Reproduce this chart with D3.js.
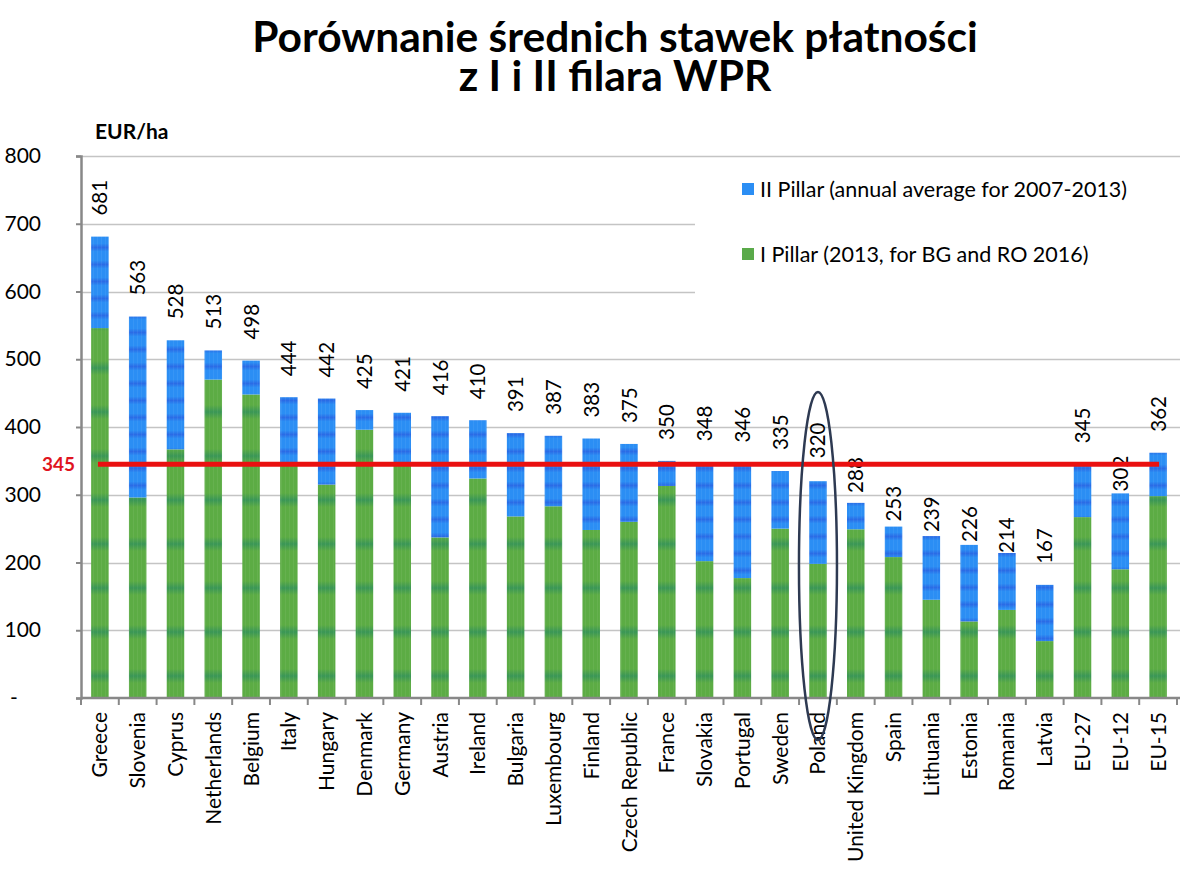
<!DOCTYPE html>
<html><head><meta charset="utf-8">
<script src="https://cdn.jsdelivr.net/npm/d3@7/dist/d3.min.js"></script>
<style>body{margin:0;background:#fff}svg{display:block}</style>
</head><body><svg id="c" width="1186" height="879"></svg>
<script>
const categories = ["Greece","Slovenia","Cyprus","Netherlands","Belgium","Italy","Hungary","Denmark","Germany","Austria","Ireland","Bulgaria","Luxembourg","Finland","Czech Republic","France","Slovakia","Portugal","Sweden","Poland","United Kingdom","Spain","Lithuania","Estonia","Romania","Latvia","EU-27","EU-12","EU-15"];
const totals = [681,563,528,513,498,444,442,425,421,416,410,391,387,383,375,350,348,346,335,320,288,253,239,226,214,167,345,302,362];
const pillar1 = [546,296,367,470,448,345,315,396,343,237,324,268,283,248,260,313,202,177,250,198,249,208,145,113,130,84,267,190,298];
const yTicks = [0,100,200,300,400,500,600,700,800];
const yTickLabels = ["-","100","200","300","400","500","600","700","800"];
const average = 345;
const seriesNames = ["II Pillar (annual average for 2007-2013)","I Pillar (2013, for BG and RO 2016)"];
const titleLines = ["Porównanie średnich stawek płatności","z I i II filara WPR"];
const highlight = "Poland";
// label lift above bar (layout), default 21
const labelLiftOverride = {"United Kingdom":10,"Spain":5,"Lithuania":4,"Estonia":3,"Romania":0,"EU-12":2,"Poland":23};

const pillar2 = totals.map((t,i)=>t-pillar1[i]);
const svg = d3.select("#c");
const FONT = "Lato, 'Open Sans', sans-serif";

const x = d3.scaleBand().domain(categories).range([81,1177]).paddingInner(0.537).paddingOuter(0.2685);
const y = d3.scaleLinear().domain([0,800]).range([698,156]);

// patterns
const defs = svg.append("defs");
function stripePattern(id, base, dark, period, band){
  const g = defs.append("linearGradient").attr("id",id+"g").attr("x1",0).attr("y1",0).attr("x2",0).attr("y2",1);
  const s=band/period;
  g.append("stop").attr("offset",0).attr("stop-color",base);
  g.append("stop").attr("offset",0.5-s/2).attr("stop-color",base);
  g.append("stop").attr("offset",0.5).attr("stop-color",dark);
  g.append("stop").attr("offset",0.5+s/2).attr("stop-color",base);
  g.append("stop").attr("offset",1).attr("stop-color",base);
  const p = defs.append("pattern").attr("id",id).attr("patternUnits","userSpaceOnUse").attr("width",4).attr("height",period).attr("y",y(0));
  p.append("rect").attr("width",4).attr("height",period).attr("fill",`url(#${id}g)`);
  p.append("rect").attr("x",1).attr("width",1).attr("height",period).attr("fill","#ffffff").attr("opacity",0.06);
}
stripePattern("pg","#5cac44","#3a9656",44,14);
stripePattern("pb","#2b8ef4","#2a6ce6",17,8);

// title (one text element, two lines)
const title = svg.append("text").attr("text-anchor","middle")
  .attr("font-family",FONT).attr("font-weight",700).attr("font-size",42.5).attr("fill","#000");
title.selectAll("tspan").data(titleLines).enter().append("tspan")
  .attr("x",615).attr("y",(d,i)=>52+i*39).text(d=>d);

// gridlines
svg.append("g").selectAll("line").data(yTicks.filter(d=>d>0)).enter().append("line")
  .attr("x1",82).attr("x2",1180).attr("y1",d=>Math.round(y(d))+0.5).attr("y2",d=>Math.round(y(d))+0.5)
  .attr("stroke","#c4c4c4").attr("stroke-width",1.5);

// legend background
svg.append("rect").attr("x",695).attr("y",166).attr("width",491).attr("height",130).attr("fill","#fff");

// y axis
const yAxis = d3.axisLeft(y).tickValues(yTicks).tickSize(5).tickFormat("");
const ya = svg.append("g").attr("transform","translate(81,0)").call(yAxis);
ya.select(".domain").attr("stroke","#888").attr("stroke-width",2.5);
ya.selectAll(".tick line").attr("stroke","#888").attr("stroke-width",2);
svg.append("g").selectAll("text").data(yTicks).enter().append("text")
  .attr("x",(d,i)=>d===0?10:41).attr("text-anchor",d=>d===0?"start":"end")
  .attr("y",d=>y(d)+7).attr("font-family",FONT).attr("font-size",21).attr("fill","#000")
  .text((d,i)=>yTickLabels[i]);
svg.append("text").attr("x",95).attr("y",139).attr("font-family",FONT).attr("font-weight",700).attr("font-size",21).text("EUR/ha");

// bars
const bw = x.bandwidth();
const gb = svg.append("g");
gb.selectAll("rect.p1").data(categories).enter().append("rect")
  .attr("x",d=>x(d)).attr("width",bw)
  .attr("y",(d,i)=>y(pillar1[i])).attr("height",(d,i)=>y(0)-y(pillar1[i]))
  .attr("fill","url(#pg)");
gb.selectAll("rect.p2").data(categories).enter().append("rect")
  .attr("x",d=>x(d)).attr("width",bw)
  .attr("y",(d,i)=>y(totals[i])).attr("height",(d,i)=>y(pillar1[i])-y(totals[i]))
  .attr("fill","url(#pb)");

// x axis
const xa = svg.append("g").attr("transform","translate(0,698)");
xa.append("line").attr("x1",81).attr("x2",1180).attr("stroke","#888").attr("stroke-width",2.5);
const step = x.step();
xa.selectAll("line.t").data(d3.range(categories.length+1)).enter().append("line")
  .attr("x1",i=>81+i*step).attr("x2",i=>81+i*step).attr("y1",0).attr("y2",7)
  .attr("stroke","#888").attr("stroke-width",2);
svg.append("g").selectAll("text").data(categories).enter().append("text")
  .attr("transform",d=>`translate(${x(d)+bw/2+7.5},712) rotate(-90)`)
  .attr("text-anchor","end").attr("font-family",FONT).attr("font-size",21).attr("fill","#000")
  .text(d=>d);

// value labels
svg.append("g").selectAll("text").data(categories).enter().append("text")
  .attr("transform",(d,i)=>{const lift = labelLiftOverride[d]!==undefined?labelLiftOverride[d]:21; return `translate(${x(d)+bw/2+7.5},${y(totals[i])-lift}) rotate(-90)`;})
  .attr("text-anchor","start").attr("font-family",FONT).attr("font-size",20.5).attr("fill","#000")
  .text((d,i)=>totals[i]);

// average line
svg.append("line").attr("x1",x(categories[0])+bw/2-2).attr("x2",x(categories[categories.length-1])+bw/2+1)
  .attr("y1",y(average)).attr("y2",y(average)).attr("stroke","#ea1010").attr("stroke-width",5);
svg.append("text").attr("x",75).attr("y",y(average)+7).attr("text-anchor","end")
  .attr("font-family",FONT).attr("font-weight",700).attr("font-size",19).attr("fill","#e0141e").text(average);

// highlight ellipse
svg.append("ellipse").attr("cx",x(highlight)+bw/2).attr("cy",566).attr("rx",19).attr("ry",174)
  .attr("fill","none").attr("stroke","#2e3a52").attr("stroke-width",2.5);

// legend
const lg = svg.append("g");
const legendColors = ["#2b8ef4","#5aaa4a"];
seriesNames.forEach((n,i)=>{
  lg.append("rect").attr("x",742).attr("y",183+i*65).attr("width",12).attr("height",12).attr("fill",legendColors[i]);
  lg.append("text").attr("x",760).attr("y",197+i*65).attr("font-family",FONT).attr("font-size",21.5).attr("fill","#000").text(n);
});
</script></body></html>
